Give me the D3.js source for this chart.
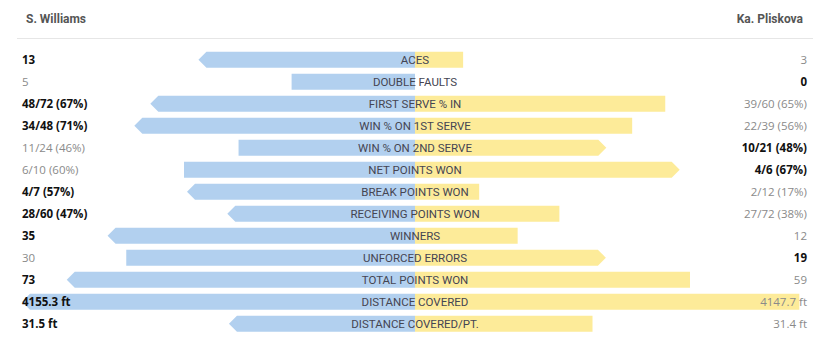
<!DOCTYPE html>
<html>
<head>
<meta charset="utf-8">
<script src="https://cdn.jsdelivr.net/npm/d3@7"></script>
<style>
  html, body { margin: 0; padding: 0; background: #fff; }
  svg { display: block; }
</style>
</head>
<body>
<svg id="chart" width="829" height="345"></svg>
<script>
// Match statistics: S. Williams vs Ka. Pliskova
const players = ["S. Williams", "Ka. Pliskova"];

const stats = [
  "ACES", "DOUBLE FAULTS", "FIRST SERVE % IN", "WIN % ON 1ST SERVE",
  "WIN % ON 2ND SERVE", "NET POINTS WON", "BREAK POINTS WON",
  "RECEIVING POINTS WON", "WINNERS", "UNFORCED ERRORS",
  "TOTAL POINTS WON", "DISTANCE COVERED", "DISTANCE COVERED/PT."
];

const williamsValues = [13, 5, 66.67, 70.83, 45.83, 60, 57.14, 46.67, 35, 30, 73, 4155.3, 31.5];
const pliskovaValues = [3, 0, 65, 56.41, 47.62, 66.67, 16.67, 37.5, 12, 19, 59, 4147.7, 31.4];

const williamsLabels = ["13", "5", "48/72 (67%)", "34/48 (71%)", "11/24 (46%)", "6/10 (60%)",
  "4/7 (57%)", "28/60 (47%)", "35", "30", "73", "4155.3 ft", "31.5 ft"];
const pliskovaLabels = ["3", "0", "39/60 (65%)", "22/39 (56%)", "10/21 (48%)", "4/6 (67%)",
  "2/12 (17%)", "27/72 (38%)", "12", "19", "59", "4147.7 ft", "31.4 ft"];

// Stats where the smaller number is the better one
const lowerIsBetter = [false, true, false, false, false, false, false, false, false, true, false, false, false];

// Upper end of each stat's bar scale
const scaleMax = [24, 15.6, 100, 100, 100, 100, 100, 100, 45, 40, 82.6, 4155, 68.1];

const svg = d3.select("#chart");
const cx = 415;          // centre line where both bars meet
const halfWidth = 385;   // full-scale bar length
const barH = 16;
const tip = 8;           // arrow head length on the leading bar

const blue = "#b2d0ef";
const yellow = "#fdeb99";

const y = d3.scalePoint().domain(stats).range([59.7, 323.7]);

// Header
svg.append("text")
  .attr("x", 26).attr("y", 22.7)
  .attr("font-family", "Roboto, sans-serif")
  .attr("font-weight", 700).attr("font-size", 12)
  .attr("fill", "#555")
  .text(players[0]);
svg.append("text")
  .attr("x", 803).attr("y", 22.7)
  .attr("text-anchor", "end")
  .attr("font-family", "Roboto, sans-serif")
  .attr("font-weight", 700).attr("font-size", 12)
  .attr("fill", "#555")
  .text(players[1]);
svg.append("line")
  .attr("x1", 17).attr("x2", 813)
  .attr("y1", 38.5).attr("y2", 38.5)
  .attr("stroke", "#e6e6e6").attr("stroke-width", 1);

const rows = stats.map((s, i) => {
  const a = williamsValues[i], b = pliskovaValues[i];
  const leftWins = lowerIsBetter[i] ? a < b : a > b;
  return {
    stat: s, i,
    left: a, right: b,
    leftLabel: williamsLabels[i], rightLabel: pliskovaLabels[i],
    leftWins, rightWins: !leftWins && a !== b,
    scale: d3.scaleLinear().domain([0, scaleMax[i]]).range([0, halfWidth])
  };
});

function leftPath(len, arrow, yc) {
  const x0 = cx - len, t = yc - barH / 2, bt = yc + barH / 2;
  if (len <= 0) return "";
  if (!arrow) return `M${cx},${t}H${x0}V${bt}H${cx}Z`;
  return `M${cx},${t}H${x0}L${x0 - tip},${yc}L${x0},${bt}H${cx}Z`;
}
function rightPath(len, arrow, yc) {
  const x1 = cx + len, t = yc - barH / 2, bt = yc + barH / 2;
  if (len <= 0) return "";
  if (!arrow) return `M${cx},${t}H${x1}V${bt}H${cx}Z`;
  return `M${cx},${t}H${x1}L${x1 + tip},${yc}L${x1},${bt}H${cx}Z`;
}

const g = svg.append("g");
const row = g.selectAll("g.row").data(rows).join("g").attr("class", "row");

row.append("path")
  .attr("d", d => leftPath(d.scale(d.left), d.leftWins, y(d.stat)))
  .attr("fill", blue);
row.append("path")
  .attr("d", d => rightPath(d.scale(d.right), d.rightWins, y(d.stat)))
  .attr("fill", yellow);

// Stat names on the centre line
row.append("text")
  .attr("x", cx).attr("y", d => y(d.stat) + 4.2)
  .attr("text-anchor", "middle")
  .attr("font-family", "Roboto, sans-serif")
  .attr("font-size", 11.5)
  .attr("fill", "#454552")
  .text(d => d.stat);

// Player values at both edges
row.append("text")
  .attr("x", 22).attr("y", d => y(d.stat) + 4)
  .attr("font-family", "'Open Sans', sans-serif")
  .attr("font-size", 11.5)
  .attr("font-weight", d => d.leftWins ? 700 : 400)
  .attr("fill", d => d.leftWins ? "#111" : "#8a8a8a")
  .text(d => d.leftLabel);
row.append("text")
  .attr("x", 807).attr("y", d => y(d.stat) + 4)
  .attr("text-anchor", "end")
  .attr("font-family", "'Open Sans', sans-serif")
  .attr("font-size", 11.5)
  .attr("font-weight", d => d.rightWins ? 700 : 400)
  .attr("fill", d => d.rightWins ? "#111" : "#8a8a8a")
  .text(d => d.rightLabel);
</script>
</body>
</html>
